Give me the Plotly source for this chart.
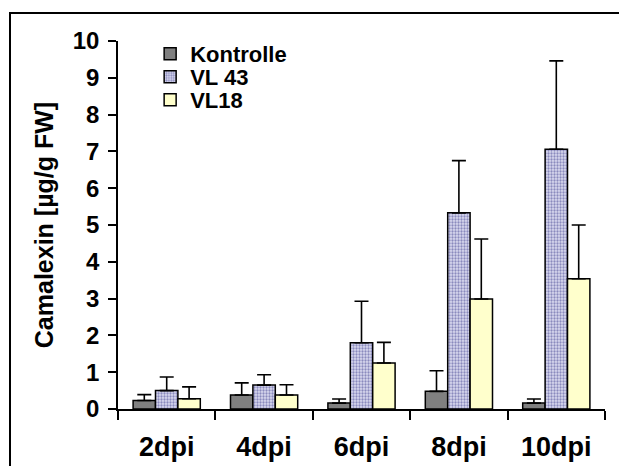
import plotly.graph_objects as go

categories = ["2dpi", "4dpi", "6dpi", "8dpi", "10dpi"]
kontrolle = [0.23, 0.38, 0.16, 0.48, 0.16]
kontrolle_err = [0.16, 0.33, 0.11, 0.56, 0.11]
vl43 = [0.50, 0.65, 1.80, 5.33, 7.06]
vl43_err = [0.37, 0.28, 1.13, 1.42, 2.40]
vl18 = [0.28, 0.38, 1.25, 2.99, 3.54]
vl18_err = [0.32, 0.28, 0.56, 1.63, 1.46]

FONT = "Arial, Liberation Sans, sans-serif"

def errbar(vals):
    return dict(type="data", symmetric=False, array=vals, arrayminus=[0] * len(vals),
                color="black", thickness=1.6, width=7)

fig = go.Figure()
fig.add_trace(go.Bar(name="Kontrolle", x=categories, y=kontrolle, error_y=errbar(kontrolle_err),
                     legend="legend",
                     marker=dict(color="#808080", line=dict(color="black", width=1.5))))
fig.add_trace(go.Bar(name="VL 43", x=categories, y=vl43, error_y=errbar(vl43_err),
                     legend="legend2",
                     marker=dict(color="#b4b4dc", line=dict(color="black", width=1.5),
                                 pattern=dict(shape=".", fgcolor="#8a8abd", bgcolor="#dadaf0",
                                              size=3, solidity=0.45, fillmode="replace"))))
fig.add_trace(go.Bar(name="VL18", x=categories, y=vl18, error_y=errbar(vl18_err),
                     legend="legend3",
                     marker=dict(color="#ffffcc", line=dict(color="black", width=1.5))))

def leg(ypix):
    return dict(x=0.066, y=(409 - ypix) / 368, xanchor="left", yanchor="middle",
                font=dict(size=22, family=FONT, color="black", weight="bold"),
                bgcolor="rgba(0,0,0,0)", itemwidth=30)

fig.update_layout(
    width=619, height=466,
    barmode="group", bargap=0.31, bargroupgap=0,
    plot_bgcolor="white", paper_bgcolor="white",
    margin=dict(l=118, r=14, t=41, b=57, autoexpand=False),
    font=dict(family=FONT, color="black"),
    legend=leg(54), legend2=leg(77), legend3=leg(100),
    showlegend=True,
)
fig.update_xaxes(showline=True, linecolor="black", linewidth=1.6, ticks="outside",
                 tickson="boundaries", ticklen=9, tickwidth=1.6, tickcolor="black",
                 tickfont=dict(size=27, family=FONT, weight="bold"), ticklabelstandoff=13,
                 showgrid=False, zeroline=False)
fig.update_yaxes(range=[0, 10], dtick=1, showline=True, linecolor="black", linewidth=1.6,
                 ticks="outside", ticklen=8, tickwidth=1.6, tickcolor="black",
                 tickfont=dict(size=24, family=FONT, weight="bold"), ticklabelstandoff=4,
                 title=dict(text="Camalexin [µg/g FW]", font=dict(size=25, family=FONT, weight="bold"),
                            standoff=12),
                 showgrid=False, zeroline=False)

# outer frame (cut off at right and bottom)
fig.add_shape(type="rect", xref="paper", yref="paper",
              x0=(10 - 118) / 487, x1=1.2, y0=-0.5, y1=(409 - 13) / 368,
              line=dict(color="black", width=2), fillcolor="rgba(0,0,0,0)", layer="below")

fig.write_html("out.html")
